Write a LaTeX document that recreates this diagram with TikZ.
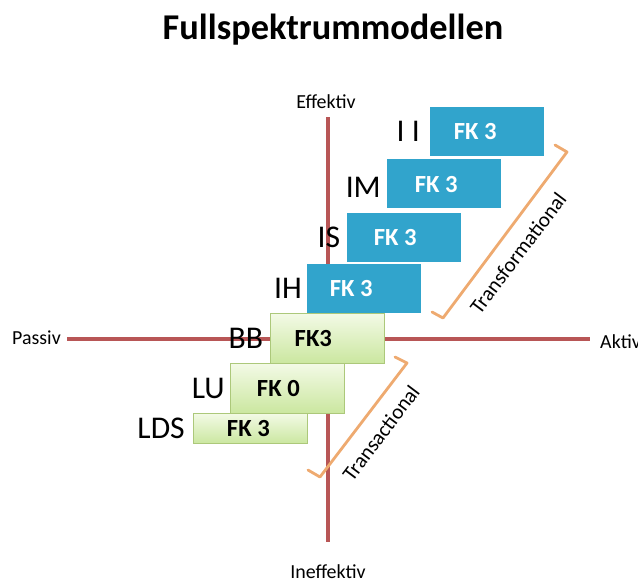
\documentclass[tikz,border=0pt]{standalone}
\usepackage{fontspec}
\setmainfont{Carlito}
\usetikzlibrary{positioning,calc}
\definecolor{aksefarge}{RGB}{184,86,86}
\definecolor{bla}{RGB}{49,164,204}
\definecolor{gronnlys}{RGB}{243,250,230}
\definecolor{gronnmork}{RGB}{203,231,160}
\definecolor{gronnkant}{RGB}{172,200,122}
\definecolor{oransje}{RGB}{238,170,112}
\tikzset{
  akse/.style={line width=3.4pt,aksefarge},
  blaboks/.style={anchor=north west,fill=bla,minimum width=3.42cm,minimum height=1.47cm,inner sep=0pt},
  gronnboks/.style={anchor=north west,draw=gronnkant,line width=0.6pt,top color=gronnlys,bottom color=gronnmork,
    minimum width=3.42cm,minimum height=1.49cm,inner sep=0pt},
  fk/.style={font=\fontsize{21}{21}\selectfont\bfseries,inner sep=0pt},
  stor/.style={font=\fontsize{27}{27}\selectfont,inner sep=0pt},
  aksetekst/.style={font=\fontsize{17}{17}\selectfont,inner sep=0pt},
  klamme/.style={line width=2.4pt,oransje,line cap=round,line join=round},
  skraa/.style={font=\fontsize{18}{18}\selectfont,rotate=53},
}

\begin{document}
\begin{tikzpicture}[x=0.03cm,y=-0.03cm]
  \useasboundingbox (0,0) rectangle (638,583);
  \node[font=\fontsize{31}{31}\selectfont\bfseries,anchor=base] (tittel) at (333,39) {Fullspektrummodellen};
  % axes
  \draw[akse] (328,117) -- (328,542);
  \draw[akse] (67,339) -- (590,339);
  \node[aksetekst] (eff) at (326,102) {Effektiv};
  \node[aksetekst] (ineff) at (328,572) {Ineffektiv};
  \node[aksetekst,anchor=west] (passiv) at (12,338) {Passiv};
  \node[aksetekst,anchor=west] (aktiv) at (600,342) {Aktiv};
  % transformational
  \node[blaboks] (ii) at (430,107) {};
  \node[blaboks] (im) at (387,159) {};
  \node[blaboks] (is) at (347,213) {};
  \node[blaboks] (ih) at (307,264) {};
  \node[fk,text=white] at ($(ii.center)+(-12,0)$) {FK 3};
  \node[fk,text=white] at ($(im.center)+(-8,1)$) {FK 3};
  \node[fk,text=white] at ($(is.center)+(-9,0)$) {FK 3};
  \node[fk,text=white] at ($(ih.center)+(-13,0)$) {FK 3};
  \node[stor,left=0.3cm of ii] (iil) {I I};
  \node[stor,left=0.18cm of im,yshift=-0.1cm] (iml) {IM};
  \node[stor,left=0.2cm of is] (isl) {IS};
  \node[stor,left=0.15cm of ih] (ihl) {IH};
  % transactional
  \node[gronnboks] (bb) at (270,313) {};
  \node[gronnboks] (lu) at (230,363) {};
  \node[gronnboks,minimum height=0.9cm] (lds) at (193,413) {};
  \node[fk] at ($(bb.center)+(-14,0)$) {FK3};
  \node[fk] at ($(lu.center)+(-9,0)$) {FK 0};
  \node[fk] at ($(lds.center)+(-2,0)$) {FK 3};
  \node[stor,left=0.2cm of bb] (bbl) {BB};
  \node[stor,left=0.15cm of lu] (lul) {LU};
  \node[stor,left=0.24cm of lds] (ldsl) {LDS};
  % brackets
  \draw[klamme] (555,145) -- (567,152) -- (443,318) -- (432,312);
  \node[skraa] (tf) at (518,253) {Transformational};
  \draw[klamme] (395,357) -- (407,363) -- (320,477) -- (308,470);
  \node[skraa] (ta) at (381,433) {Transactional};
\end{tikzpicture}
\end{document}
